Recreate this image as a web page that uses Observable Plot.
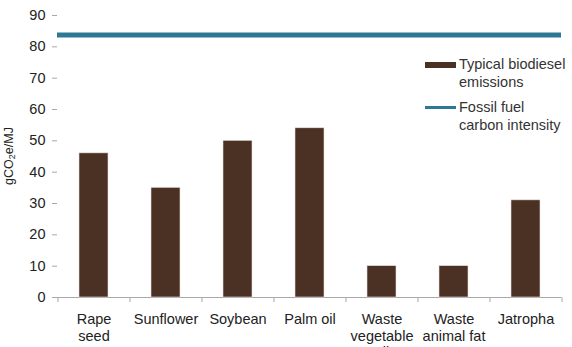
<!DOCTYPE html>
<html>
<head>
<meta charset="utf-8">
<script src="https://cdn.jsdelivr.net/npm/d3@7"></script>
<script src="https://cdn.jsdelivr.net/npm/@observablehq/plot@0.6"></script>
<style>
  html, body { margin: 0; padding: 0; background: #fff; }
  #chart { position: relative; width: 572px; height: 347px; overflow: hidden; font-family: "Liberation Sans", Arial, sans-serif; }
  .legend { position: absolute; left: 425px; font-size: 14.5px; color: #333; line-height: 18px; }
  .legend .row { position: absolute; left: 0; width: 150px; }
  .legend .sw { position: absolute; left: 0; width: 31px; }
  .legend .lbl { position: absolute; left: 34px; white-space: nowrap; }
</style>
</head>
<body>
<div id="chart"></div>
<script>
// Feedstocks and their typical biodiesel life-cycle emissions (gCO2e/MJ)
const feedstocks = ["Rape\nseed", "Sunflower", "Soybean", "Palm oil", "Waste\nvegetable\noil", "Waste\nanimal fat", "Jatropha"];
const emissions = [46, 35, 50, 54, 10, 10, 31];
// Fossil fuel comparator
const fossilIntensity = [83.8];
const yTicks = [0, 10, 20, 30, 40, 50, 60, 70, 80, 90];

const barColor = "#4a3124";
const fossilColor = "#2e7896";
const axisColor = "#a8a8a8";

const W = 572, H = 347;
const mL = 57, mR = 11, mT = 15, mB = 50;
const step = (W - mL - mR) / feedstocks.length;

const data = feedstocks.map((f, i) => ({feedstock: f, value: emissions[i]}));

const plot = Plot.plot({
  width: W,
  height: H,
  marginLeft: mL,
  marginRight: mR,
  marginTop: mT,
  marginBottom: mB,
  style: {fontFamily: "Liberation Sans, Arial, sans-serif", fontSize: "14.5px", color: "#222", background: "#fff"},
  x: {domain: feedstocks, paddingInner: 0.6, paddingOuter: 0.3, label: null},
  y: {domain: [0, 90], label: null},
  marks: [
    // y axis: line, ticks and labels
    Plot.axisY({ticks: yTicks, tickSize: 5, tickPadding: 7, stroke: axisColor, strokeOpacity: 1, fill: "#222", label: null}),
    Plot.ruleX([0], {frameAnchor: "left", stroke: axisColor}),
    // x axis: baseline and boundary ticks between categories
    Plot.ruleY([0], {stroke: axisColor}),
    Plot.axisX({ticks: feedstocks, tickSize: 5, tickFormat: () => "", dx: -step / 2, stroke: axisColor, strokeOpacity: 1, label: null}),
    Plot.axisX({ticks: feedstocks.slice(-1), tickSize: 5, tickFormat: () => "", dx: step / 2, stroke: axisColor, strokeOpacity: 1, label: null}),
    Plot.axisX({ticks: feedstocks, tickSize: 0, tickPadding: 14, lineHeight: 1.17, fill: "#222", label: null}),
    // bars
    Plot.barY(data, {x: "feedstock", y: "value", fill: barColor, stroke: "#e8ddd6", strokeWidth: 0.6}),
    // fossil fuel carbon intensity line
    Plot.ruleY(fossilIntensity, {stroke: fossilColor, strokeWidth: 5})
  ]
});

const chart = document.getElementById("chart");
chart.appendChild(plot);

// Legend, placed over the upper right of the plot area
const legend = document.createElement("div");
legend.className = "legend";
legend.style.top = "0px";
legend.innerHTML = `
  <div class="row" style="top:55px">
    <div class="sw" style="top:7px;height:6px;background:${barColor}"></div>
    <div class="lbl" style="top:0">Typical biodiesel<br>emissions</div>
  </div>
  <div class="row" style="top:98px">
    <div class="sw" style="top:8px;height:3px;background:${fossilColor}"></div>
    <div class="lbl" style="top:0">Fossil fuel<br>carbon intensity</div>
  </div>`;
chart.appendChild(legend);

// y axis title
const ytitle = document.createElement("div");
ytitle.style.cssText = "position:absolute;left:9px;top:156px;transform:translate(-50%,-50%) rotate(-90deg);font-size:12.5px;color:#222;white-space:nowrap;";
ytitle.innerHTML = "gCO<sub style='font-size:9px;vertical-align:-2px'>2</sub>e/MJ";
chart.appendChild(ytitle);
</script>
</body>
</html>
